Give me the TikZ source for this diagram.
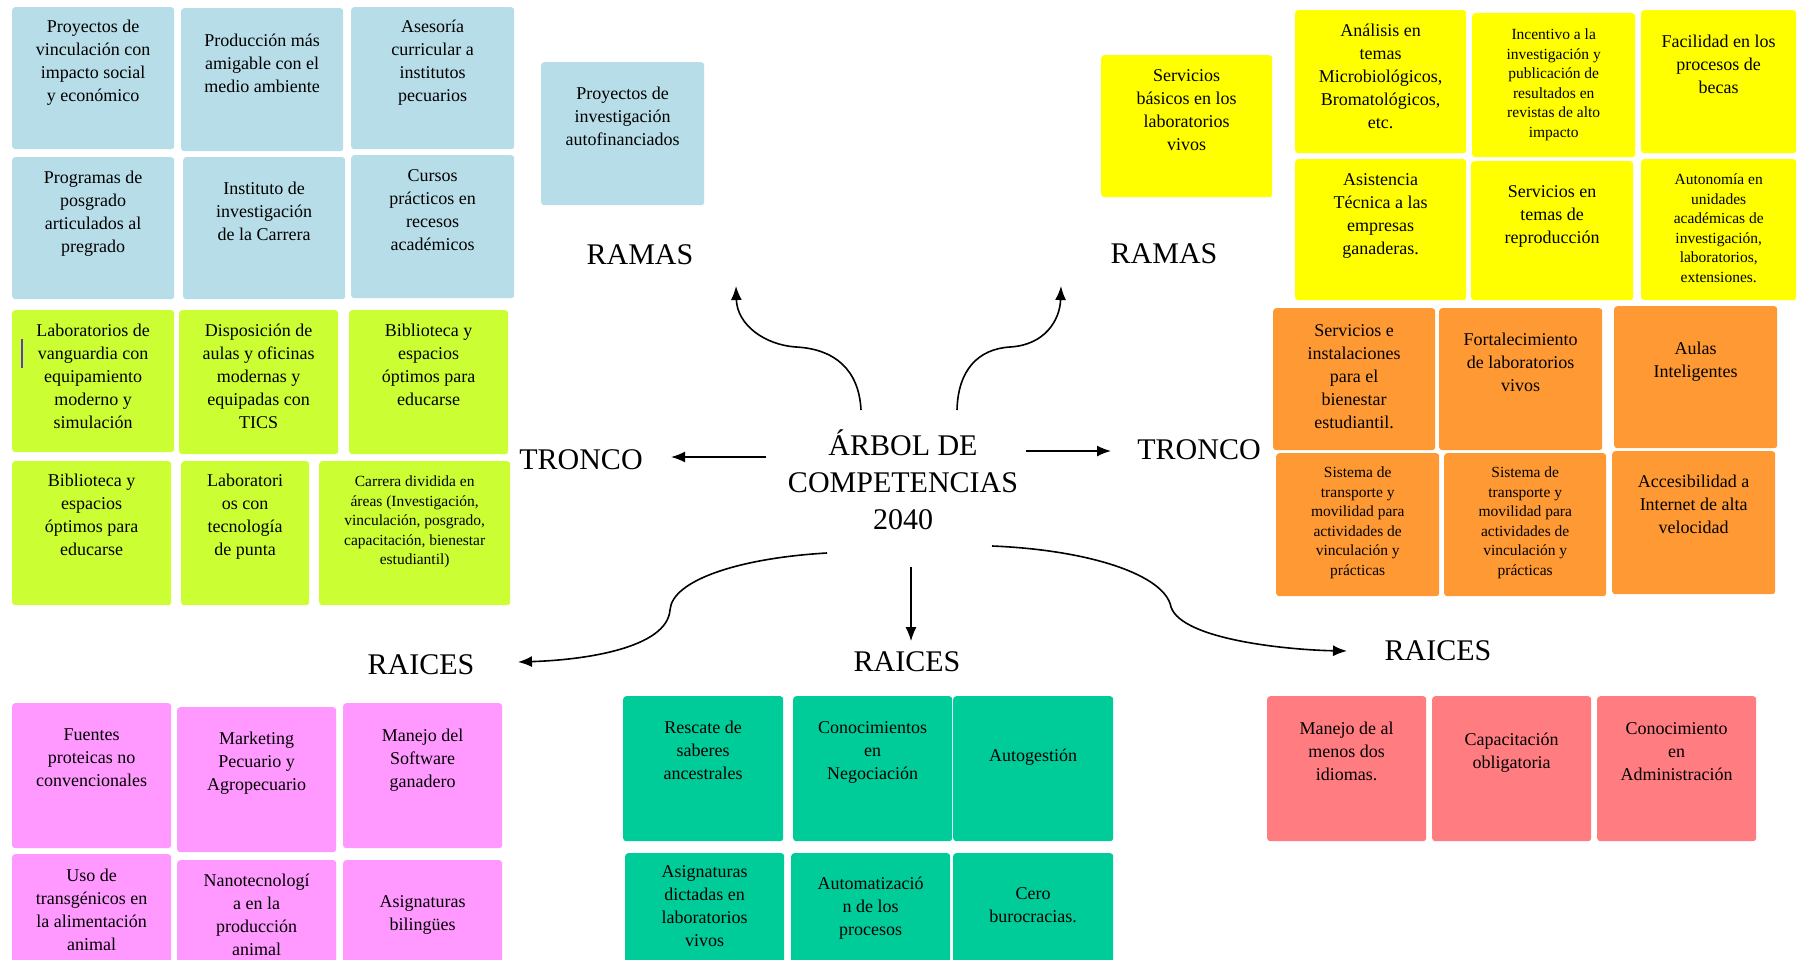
\documentclass[tikz,border=0pt]{standalone}
\usepackage{fontspec}
\setmainfont{Liberation Serif}
\usetikzlibrary{calc,arrows.meta}

\definecolor{azulc}{HTML}{B7DDE8}
\definecolor{verdel}{HTML}{CCFF33}
\definecolor{amarillo}{HTML}{FFFF00}
\definecolor{naranja}{HTML}{FF9933}
\definecolor{rosa}{HTML}{FF99FF}
\definecolor{turquesa}{HTML}{00CC99}
\definecolor{salmon}{HTML}{FF7C80}
\definecolor{violeta}{HTML}{5B3FBF}

\newcommand{\chica}{\fontsize{15.5}{19.5}\selectfont}
% tarjeta: nombre, color, x, y, ancho, alto, margen arriba, texto
\newcommand{\tarjeta}[8]{%
  \node[tarjeta, fill=#2] (#1) at (#3,#4)
    {\parbox[t][#6pt][t]{#5pt}{\centering\vspace*{#7pt}#8}};}

\begin{document}
\begin{tikzpicture}[x=1pt,y=-1pt,
  tarjeta/.style={anchor=north west, inner sep=0pt, rounded corners=3pt,
    font=\fontsize{18}{23}\selectfont},
  rotulo/.style={font=\fontsize{30}{37}\selectfont, inner sep=0pt},
  flecha/.style={->, line width=1.6pt},
  >={Latex[length=14pt,width=11pt]}]
\useasboundingbox (0,0) rectangle (1798,960);
\fill[white] (0,0) rectangle (1798,960);
\clip (0,0) rectangle (1798,960);

% Ramas (azul)
\tarjeta{b1}{azulc}{12}{7}{162}{142}{13}{Proyectos de\\vinculación con\\impacto social\\y económico}
\tarjeta{b2}{azulc}{181}{8}{162}{143}{26}{Producción más\\amigable con el\\medio ambiente}
\tarjeta{b3}{azulc}{351}{7}{163}{142}{13}{Asesoría\\curricular a\\institutos\\pecuarios}
\tarjeta{b4}{azulc}{12}{157}{162}{142}{14}{Programas de\\posgrado\\articulados al\\pregrado}
\tarjeta{b5}{azulc}{183}{157}{162}{142}{25}{Instituto de\\investigación\\de la Carrera}
\tarjeta{b6}{azulc}{351}{155}{163}{143}{14}{Cursos\\prácticos en\\recesos\\académicos}
\tarjeta{b7}{azulc}{541}{62}{163}{143}{25}{Proyectos de\\investigación\\autofinanciados}

% Tronco (verde)
\tarjeta{v1}{verdel}{12}{310}{162}{142}{14}{Laboratorios de\\vanguardia con\\equipamiento\\moderno y\\simulación}
\tarjeta{v2}{verdel}{179}{310}{159}{144}{14}{Disposición de\\aulas y oficinas\\modernas y\\equipadas con\\TICS}
\tarjeta{v3}{verdel}{349}{310}{159}{144}{14}{Biblioteca y\\espacios\\óptimos para\\educarse}
\tarjeta{v4}{verdel}{12}{461}{159}{144}{13}{Biblioteca y\\espacios\\óptimos para\\educarse}
\tarjeta{v5}{verdel}{181}{461}{128}{144}{13}{Laboratori\\os con\\tecnología\\de punta}
\tarjeta{v6}{verdel}{319}{461}{191}{144}{15}{\chica Carrera dividida en\\áreas (Investigación,\\vinculación, posgrado,\\capacitación, bienestar\\estudiantil)}
\draw[violeta, line width=1.5pt] (22,339) -- (22,368);

% Ramas (amarillo)
\tarjeta{a0}{amarillo}{1101}{55}{171}{142}{14}{Servicios\\básicos en los\\laboratorios\\vivos}
\tarjeta{a1}{amarillo}{1295}{10}{171}{143}{14}{Análisis en\\temas\\Microbiológicos,\\Bromatológicos,\\etc.}
\tarjeta{a2}{amarillo}{1472}{13}{163}{144}{16}{\chica Incentivo a la\\investigación y\\publicación de\\resultados en\\revistas de alto\\impacto}
\tarjeta{a3}{amarillo}{1641}{10}{155}{143}{25}{Facilidad en los\\procesos de\\becas}
\tarjeta{a4}{amarillo}{1295}{159}{171}{141}{14}{Asistencia\\Técnica a las\\empresas\\ganaderas.}
\tarjeta{a5}{amarillo}{1471}{161}{162}{139}{24}{Servicios en\\temas de\\reproducción}
\tarjeta{a6}{amarillo}{1641}{159}{155}{141}{15}{\chica Autonomía en\\unidades\\académicas de\\investigación,\\laboratorios,\\extensiones.}

% Tronco (naranja)
\tarjeta{n1}{naranja}{1273}{308}{162}{142}{16}{Servicios e\\instalaciones\\para el\\bienestar\\estudiantil.}
\tarjeta{n2}{naranja}{1439}{308}{163}{142}{25}{Fortalecimiento\\de laboratorios\\vivos}
\tarjeta{n3}{naranja}{1614}{306}{163}{142}{36}{Aulas\\Inteligentes}
\tarjeta{n4}{naranja}{1276}{453}{163}{143}{14}{\chica Sistema de\\transporte y\\movilidad para\\actividades de\\vinculación y\\prácticas}
\tarjeta{n5}{naranja}{1444}{453}{162}{143}{14}{\chica Sistema de\\transporte y\\movilidad para\\actividades de\\vinculación y\\prácticas}
\tarjeta{n6}{naranja}{1612}{451}{163}{143}{24}{Accesibilidad a\\Internet de alta\\velocidad}

% Raices (rosa)
\tarjeta{r1}{rosa}{12}{703}{159}{145}{26}{Fuentes\\proteicas no\\convencionales}
\tarjeta{r2}{rosa}{177}{707}{159}{145}{25}{Marketing\\Pecuario y\\Agropecuario}
\tarjeta{r3}{rosa}{343}{703}{159}{145}{26}{Manejo del\\Software\\ganadero}
\tarjeta{r4}{rosa}{12}{854}{159}{120}{15}{Uso de\\transgénicos en\\la alimentación\\animal}
\tarjeta{r5}{rosa}{177}{860}{159}{120}{14}{Nanotecnologí\\a en la\\producción\\animal}
\tarjeta{r6}{rosa}{343}{860}{159}{120}{35}{Asignaturas\\bilingües}

% Raices (turquesa)
\tarjeta{t1}{turquesa}{623}{696}{160}{145}{25}{Rescate de\\saberes\\ancestrales}
\tarjeta{t2}{turquesa}{793}{696}{159}{145}{25}{Conocimientos\\en\\Negociación}
\tarjeta{t3}{turquesa}{953}{696}{160}{145}{53}{Autogestión}
\tarjeta{t4}{turquesa}{625}{853}{159}{120}{12}{Asignaturas\\dictadas en\\laboratorios\\vivos}
\tarjeta{t5}{turquesa}{791}{853}{159}{120}{24}{Automatizació\\n de los\\procesos}
\tarjeta{t6}{turquesa}{953}{853}{160}{120}{34}{Cero\\burocracias.}

% Raices (salmon)
\tarjeta{s1}{salmon}{1267}{696}{159}{145}{26}{Manejo de al\\menos dos\\idiomas.}
\tarjeta{s2}{salmon}{1432}{696}{159}{145}{37}{Capacitación\\obligatoria}
\tarjeta{s3}{salmon}{1597}{696}{159}{145}{26}{Conocimiento\\en\\Administración}

% Centro y rotulos
\node[rotulo, align=center] (arbol) at (903,480) {ÁRBOL DE\\COMPETENCIAS\\2040};
\node[rotulo] (ramasIzq) at (640,255) {RAMAS};
\node[rotulo] (ramasDer) at (1164,254) {RAMAS};
\node[rotulo] (troncoIzq) at (581,460) {TRONCO};
\node[rotulo] (troncoDer) at (1199,450) {TRONCO};
\node[rotulo] (raicesIzq) at (421,665) {RAICES};
\node[rotulo] (raicesMed) at (907,662) {RAICES};
\node[rotulo] (raicesDer) at (1438,651) {RAICES};

% Flechas
\draw[flecha] ($(arbol)+(-42,-70)$) .. controls (859,370) and (835,349) .. (796,347)
  .. controls (765,345) and (737,325) .. ($(ramasIzq)+(96,31)$);
\draw[flecha] ($(arbol)+(54,-70)$) .. controls (958,370) and (978,349) .. (1010,347)
  .. controls (1045,345) and (1060,320) .. ($(ramasDer)+(-103,32)$);
\draw[flecha] ($(arbol)+(-137,-23)$) -- ($(troncoIzq)+(90,-3)$);
\draw[flecha] ($(arbol)+(123,-29)$) -- ($(troncoDer)+(-88,1)$);
\draw[flecha, line width=1.1pt] ($(arbol)+(8,87)$) -- ($(raicesMed)+(4,-21)$);
\draw[flecha] ($(arbol)+(-76,73)$) .. controls (740,558) and (672,580) .. (670,610)
  .. controls (667,648) and (585,660) .. ($(raicesIzq)+(97,-3)$);
\draw[flecha] ($(arbol)+(89,66)$) .. controls (1090,550) and (1165,575) .. (1171,607)
  .. controls (1182,640) and (1290,650) .. ($(raicesDer)+(-91,0)$);
\end{tikzpicture}
\end{document}
